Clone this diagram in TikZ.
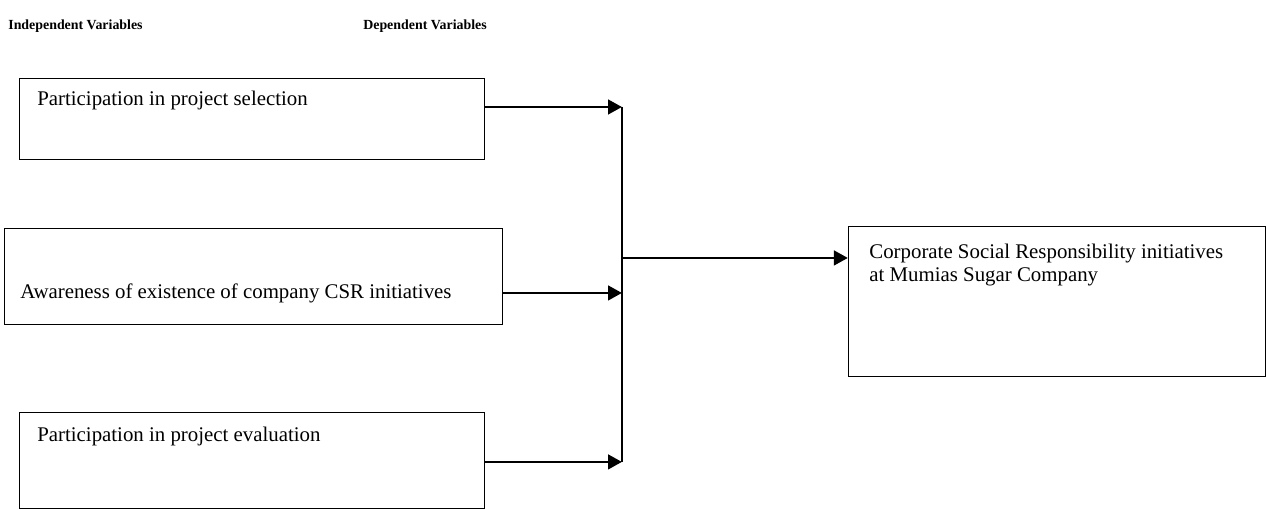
\documentclass[tikz,border=0pt]{standalone}
\usepackage{fontspec}
\setmainfont{Liberation Serif}
\usetikzlibrary{arrows.meta,positioning,calc}

\begin{document}
\begin{tikzpicture}[
    varbox/.style={draw, line width=0.8pt, inner sep=0pt, anchor=north west},
    boxtext/.style={anchor=west, inner sep=0pt, align=left, font=\fontsize{12}{13.2}\selectfont},
    heading/.style={anchor=west, inner sep=0pt, font=\fontsize{8}{9.6}\selectfont\bfseries},
    flow/.style={line width=1.1pt},
    flowarrow/.style={flow, -{Triangle[length=0.28cm,width=0.3cm]}}
]
    \useasboundingbox (0,0) rectangle (25.61,-10.30);

    % Headings
    \node[heading] (indep) at (0.162,-0.526) {Independent Variables};
    \node[heading] (dep) at (7.342,-0.526) {Dependent Variables};

    % Independent variables
    \node[varbox, minimum width=9.405cm, minimum height=1.638cm] (select) at (0.384,-1.578) {};
    \node[boxtext] (selecttxt) at (0.748,-2.023) {Participation in project selection};

    \node[varbox, minimum width=10.07cm, minimum height=1.942cm] (aware) at (0.081,-4.612) {};
    \node[boxtext] (awaretxt) at (0.405,-5.926) {Awareness of existence of company CSR initiatives};

    \node[varbox, minimum width=9.405cm, minimum height=1.942cm] (evaluate) at (0.384,-8.333) {};
    \node[boxtext] (evaluatetxt) at (0.748,-8.839) {Participation in project evaluation};

    % Dependent variable
    \node[varbox, minimum width=8.434cm, minimum height=3.034cm] (csr) at (17.15,-4.571) {};
    \node[boxtext] (csrtxt) at (17.58,-5.370) {Corporate Social Responsibility initiatives\\at Mumias Sugar Company};

    % Points on the collecting line
    \coordinate (j1) at (12.58,-2.164);
    \coordinate (j2) at (12.58,-5.926);
    \coordinate (j3) at (12.58,-9.344);
    \coordinate (jout) at (12.58,-5.218);

    % Arrows
    \draw[flowarrow] (select.east |- j1) -- (j1);
    \draw[flowarrow] (aware.east |- j2) -- (j2);
    \draw[flowarrow] (evaluate.east |- j3) -- (j3);
    \draw[flow] (j1) -- (j3);
    \draw[flowarrow] (jout) -- (csr.west |- jout);
\end{tikzpicture}
\end{document}
